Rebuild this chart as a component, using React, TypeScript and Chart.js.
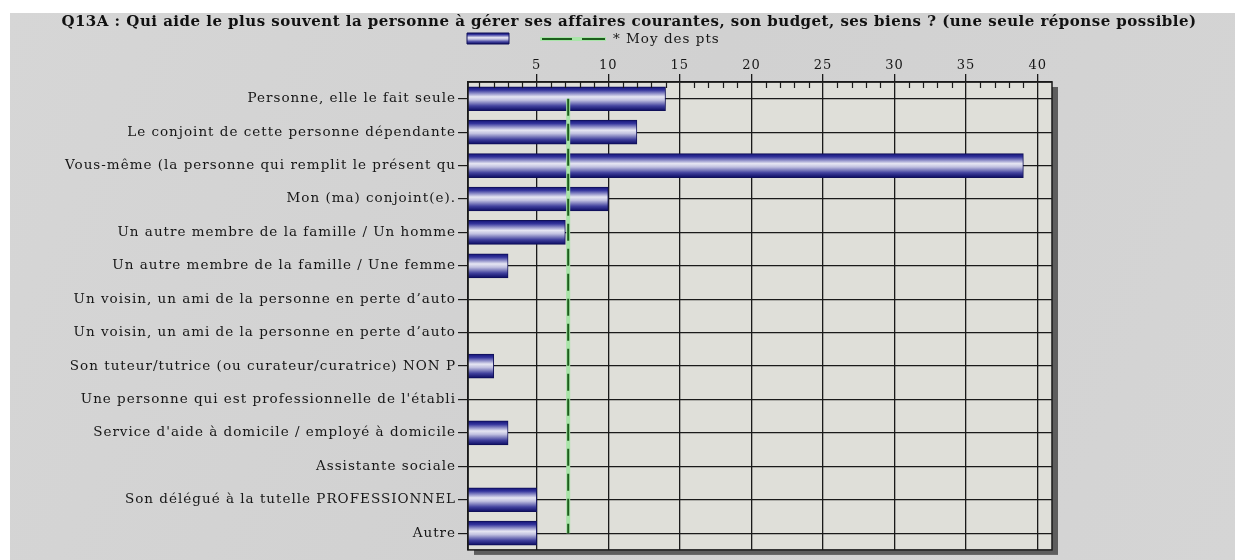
import { useEffect, useRef } from "react";
import { Chart, registerables } from "chart.js";

Chart.register(...registerables);

const TITLE =
  "Q13A : Qui aide le plus souvent la personne à gérer ses affaires courantes, son budget, ses biens ? (une seule réponse possible)";

const categories: string[] = [
  "Personne, elle le fait seule",
  "Le conjoint de cette personne dépendante",
  "Vous-même (la personne qui remplit le présent qu",
  "Mon (ma) conjoint(e).",
  "Un autre membre de la famille / Un homme",
  "Un autre membre de la famille / Une femme",
  "Un voisin, un ami de la personne en perte d’auto",
  "Un voisin, un ami de la personne en perte d’auto",
  "Son tuteur/tutrice (ou curateur/curatrice) NON P",
  "Une personne qui est professionnelle de l'établi",
  "Service d'aide à domicile / employé à domicile",
  "Assistante sociale",
  "Son délégué à la tutelle PROFESSIONNEL",
  "Autre",
];

const values: number[] = [14, 12, 39, 10, 7, 3, 0, 0, 2, 0, 3, 0, 5, 5];

const meanValue = 7.2;

const xTickValues: number[] = [5, 10, 15, 20, 25, 30, 35, 40];

const legendLabel = "* Moy des pts";

const FONT = '"DejaVu Serif", serif';
const TEXT = "#161616";
const GRID = "#1a1a1a";
const LABEL_SPACING = "1px";

function barGradient(ctx: CanvasRenderingContext2D, top: number, bottom: number) {
  const g = ctx.createLinearGradient(0, top, 0, bottom);
  g.addColorStop(0, "#121276");
  g.addColorStop(0.14, "#34349c");
  g.addColorStop(0.42, "#e6e6f3");
  g.addColorStop(0.56, "#c0c0e0");
  g.addColorStop(0.8, "#42429e");
  g.addColorStop(1, "#0a0a62");
  return g;
}

const BAR_H = 24;

const framePlugin = {
  id: "framePlugin",
  beforeLayout(chart: any) {
    try {
      (chart.ctx as any).letterSpacing = LABEL_SPACING;
    } catch (e) {}
  },
  beforeDraw(chart: any) {
    const { ctx, chartArea } = chart;
    ctx.save();
    ctx.fillStyle = "#ffffff";
    ctx.fillRect(0, 0, chart.width, chart.height);
    const bg = ctx.createLinearGradient(0, 13, chart.width, chart.height);
    bg.addColorStop(0, "#d6d6d6");
    bg.addColorStop(0.5, "#d1d1d1");
    bg.addColorStop(1, "#d5d5d5");
    ctx.fillStyle = bg;
    ctx.fillRect(10, 13, chart.width - 10, chart.height - 13);
    // shadow
    ctx.fillStyle = "#5e5e5e";
    ctx.fillRect(chartArea.left + 6, chartArea.top + 5, chartArea.right - chartArea.left, chartArea.bottom - chartArea.top);
    // plot background
    ctx.fillStyle = "#dfdfd9";
    ctx.fillRect(chartArea.left, chartArea.top, chartArea.right - chartArea.left, chartArea.bottom - chartArea.top);
    ctx.restore();
    try {
      (ctx as any).letterSpacing = LABEL_SPACING;
    } catch (e) {}
  },
  afterDraw(chart: any) {
    const { ctx, chartArea } = chart;
    const xs = chart.scales.x;
    ctx.save();
    // frame
    ctx.strokeStyle = GRID;
    ctx.lineWidth = 1.5;
    ctx.strokeRect(chartArea.left, chartArea.top, chartArea.right - chartArea.left, chartArea.bottom - chartArea.top);
    // minor ticks
    ctx.lineWidth = 1.2;
    ctx.beginPath();
    for (let i = 1; i < 41; i++) {
      if (i % 5 === 0) continue;
      const x = Math.round(xs.getPixelForValue(i)) + 0.5;
      ctx.moveTo(x, chartArea.top);
      ctx.lineTo(x, chartArea.top + 6);
    }
    ctx.stroke();

    // title
    try {
      (ctx as any).letterSpacing = "0.48px";
    } catch (e) {}
    ctx.fillStyle = "#111111";
    ctx.font = `bold 15px ${FONT}`;
    ctx.textAlign = "center";
    ctx.textBaseline = "middle";
    ctx.fillText(TITLE, 629, 22);

    // legend swatch
    const sx = 467, sy = 33, sw = 42, sh = 11;
    ctx.fillStyle = barGradient(ctx, sy, sy + sh);
    ctx.beginPath();
    ctx.rect(sx, sy, sw, sh);
    ctx.fill();
    ctx.strokeStyle = "#101058";
    ctx.lineWidth = 1;
    ctx.stroke();

    // legend line
    ctx.strokeStyle = "#a8e4a8";
    ctx.lineWidth = 4;
    ctx.beginPath();
    ctx.moveTo(540, 39);
    ctx.lineTo(606, 39);
    ctx.stroke();
    ctx.strokeStyle = "#1d5e1d";
    ctx.lineWidth = 2;
    ctx.setLineDash([30, 10]);
    ctx.beginPath();
    ctx.moveTo(542, 39);
    ctx.lineTo(605, 39);
    ctx.stroke();
    ctx.setLineDash([]);

    try {
      (ctx as any).letterSpacing = LABEL_SPACING;
    } catch (e) {}
    ctx.fillStyle = TEXT;
    ctx.font = `13.5px ${FONT}`;
    ctx.textAlign = "left";
    ctx.textBaseline = "middle";
    ctx.fillText(legendLabel, 613, 39);
    ctx.restore();
  },
};

export default function App() {
  const ref = useRef<HTMLCanvasElement | null>(null);

  useEffect(() => {
    if (!ref.current) return;
    const chart = new Chart(ref.current, {
      type: "bar",
      data: {
        labels: categories,
        datasets: [
          {
            type: "bar",
            label: "",
            data: values,
            order: 3,
            barThickness: BAR_H,
            borderColor: "#101058",
            borderWidth: 1,
            borderSkipped: false,
            backgroundColor: (c: any) => {
              const ch = c.chart;
              const ys = ch.scales && ch.scales.y;
              if (!ys || c.type !== "data") return "#3a3a9a";
              const mid = ys.getPixelForValue(c.dataIndex);
              if (!Number.isFinite(mid)) return "#3a3a9a";
              return barGradient(ch.ctx, mid - BAR_H / 2, mid + BAR_H / 2);
            },
          } as any,
          {
            type: "line",
            label: "halo",
            data: categories.map(() => meanValue),
            order: 2,
            borderColor: "#a8e4a8",
            borderWidth: 4,
            pointRadius: 0,
            fill: false,
          } as any,
          {
            type: "line",
            label: legendLabel,
            data: categories.map(() => meanValue),
            order: 1,
            borderColor: "#1d5e1d",
            borderWidth: 2,
            borderDash: [17, 8],
            pointRadius: 0,
            fill: false,
          } as any,
        ],
      },
      options: {
        indexAxis: "y",
        responsive: false,
        animation: false,
        layout: { padding: { top: 56, left: 0, right: 183, bottom: 10 } },
        plugins: {
          legend: { display: false },
          title: { display: false },
          tooltip: { enabled: false },
        },
        scales: {
          x: {
            type: "linear",
            position: "top",
            min: 0.2,
            max: 41,
            afterBuildTicks: (scale: any) => {
              scale.ticks = xTickValues.map((v) => ({ value: v }));
            },
            afterFit: (scale: any) => {
              scale.height = 26;
            },
            ticks: {
              color: TEXT,
              font: { family: FONT, size: 13 },
              padding: 1,
              maxRotation: 0,
              autoSkip: false,
            },
            grid: {
              color: GRID,
              lineWidth: 1.3,
              tickLength: 8,
              drawOnChartArea: true,
            },
            border: { display: true, color: GRID, width: 1.5 },
          },
          y: {
            type: "category",
            afterFit: (scale: any) => {
              scale.width = 468;
            },
            ticks: {
              color: TEXT,
              font: { family: FONT, size: 13.5 },
              padding: 2,
              autoSkip: false,
            },
            grid: {
              color: GRID,
              lineWidth: 1.2,
              tickLength: 10,
              offset: false,
              drawOnChartArea: true,
            },
            border: { display: true, color: GRID, width: 1.5 },
          },
        },
      } as any,
      plugins: [framePlugin],
    });
    return () => chart.destroy();
  }, []);

  return (
    <div style={{ position: "fixed", left: 0, top: 0, width: 1235, height: 560, background: "#fff" }}>
      <canvas ref={ref} width={1235} height={560} style={{ display: "block", width: 1235, height: 560 }} />
    </div>
  );
}
